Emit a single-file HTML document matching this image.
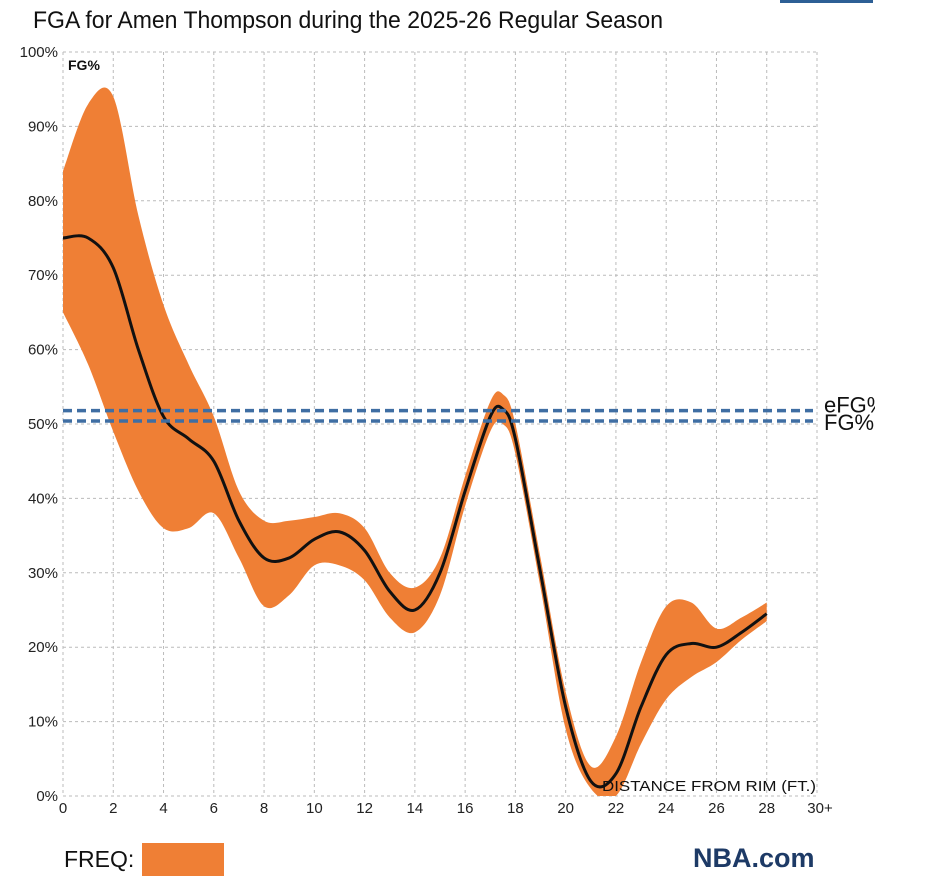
<!DOCTYPE html>
<html><head><meta charset="utf-8"><style>
body{margin:0;background:#fff;width:932px;height:886px;overflow:hidden;font-family:"Liberation Sans",sans-serif}
svg{position:absolute;left:0;top:0}
</style></head><body>
<svg width="932" height="886">
<defs><clipPath id="pc"><rect x="63" y="40" width="760" height="756"/></clipPath>
<clipPath id="lc"><rect x="0" y="0" width="875" height="886"/></clipPath></defs>
<rect x="780" y="0" width="93" height="3" fill="#2d5f95"/>
<text x="33" y="28" font-size="24" fill="#111" font-family="'Liberation Sans Narrow','Liberation Sans',sans-serif" textLength="630" lengthAdjust="spacingAndGlyphs">FGA for Amen Thompson during the 2025-26 Regular Season</text>
<g id="grid"></g>
<g id="band" clip-path="url(#pc)"></g>
<g id="line" clip-path="url(#pc)"></g>
<g id="refs" clip-path="url(#lc)"></g>
<g id="axes"></g>
<text x="68" y="70" font-size="14" font-weight="bold" fill="#111">FG%</text>
<text x="602" y="791" font-size="15" fill="#111" textLength="214" lengthAdjust="spacingAndGlyphs">DISTANCE FROM RIM (FT.)</text>
<text x="64" y="867" font-size="23" fill="#111">FREQ:</text>
<rect x="142" y="843" width="82" height="33" fill="#ef7f35"/>
<text x="693" y="867" font-size="27" font-weight="bold" fill="#1d3a66">NBA.com</text>
</svg>
<script>
const distances=[0,1,2,3,4,5,6,7,8,9,10,11,12,13,14,15,16,17,17.5,18,19,20,21,22,23,24,25,26,27,28];
const fgPct=[75,75,71,60,51,48,45,37,32,32,34.5,35.5,33,27.5,25,30,41,51,52,48,30,12,2,3,12,19,20.5,20,22,24.5];
const upperBand=[84,93,94,78,66,58,51,41,37,37,37.5,38,36,30,28,32,43,53,54,50,32,14,4,8,18,25.5,26,22.5,24,26];
const lowerBand=[65,58,49,41,36,36,38,32,25.5,27,31,31,29,24,22,27,39,49,50,46,28,9,1,0,7,13,16,18,21,23.5];
const refNames=["eFG%","FG%"];
const refValues=[51.8,50.4];
const xTicks=[0,2,4,6,8,10,12,14,16,18,20,22,24,26,28,30];
const xTickLabels=["0","2","4","6","8","10","12","14","16","18","20","22","24","26","28","30+"];
const yTicks=[0,10,20,30,40,50,60,70,80,90,100];

const NS="http://www.w3.org/2000/svg";
const X=v=>63+v*(817-63)/30;
const Y=v=>796-v*(796-52)/100;
function el(p,t,a){const e=document.createElementNS(NS,t);for(const k in a)e.setAttribute(k,a[k]);p.appendChild(e);return e;}
function smooth(pts){let d="M"+pts[0][0]+","+pts[0][1];
 for(let i=0;i<pts.length-1;i++){const p0=pts[i-1]||pts[i],p1=pts[i],p2=pts[i+1],p3=pts[i+2]||p2;
  const c1=[p1[0]+(p2[0]-p0[0])/6,p1[1]+(p2[1]-p0[1])/6],c2=[p2[0]-(p3[0]-p1[0])/6,p2[1]-(p3[1]-p1[1])/6];
  d+="C"+c1+" "+c2+" "+p2;}return d;}
const grid=document.getElementById('grid'),axes=document.getElementById('axes');
yTicks.forEach(t=>{const l=el(grid,'line',{x1:63,x2:817,y1:Y(t),y2:Y(t),stroke:'#bbb','stroke-dasharray':'3,3'});
 
 
 const tx=el(axes,'text',{x:58,y:Y(t)+5,'text-anchor':'end','font-size':15,fill:'#222'});tx.textContent=t+'%';
 
 });
xTicks.forEach((t,i)=>{const l=el(grid,'line',{x1:X(t),x2:X(t),y1:52,y2:796,stroke:'#bbb','stroke-dasharray':'3,3'});
 
 
 const tx=el(axes,'text',{x:X(t)+(i==15?3:0),y:813,'text-anchor':'middle','font-size':15,fill:'#222'});tx.textContent=xTickLabels[i];
 
 });
const up=distances.map((d,i)=>[X(d),Y(upperBand[i])]);
const lo=distances.map((d,i)=>[X(d),Y(lowerBand[i])]).reverse();
const bd=smooth(up)+"L"+lo[0]+smooth(lo).slice(1).replace(/^[^C]*/,'')+"Z";
const band=el(document.getElementById('band'),'path',{d:bd,fill:'#ef7f35'});


const ln=el(document.getElementById('line'),'path',{d:smooth(distances.map((d,i)=>[X(d),Y(fgPct[i])])),fill:'none',stroke:'#111','stroke-width':3});


const refs=document.getElementById('refs');
refValues.forEach((v,i)=>{const l=el(refs,'line',{x1:63,x2:813,y1:Y(v),y2:Y(v),stroke:'#3f6ea3','stroke-width':3.5,'stroke-dasharray':'9,5'});
 
 
 const t=el(refs,'text',{x:824,y:Y(v)+(i?9:2),'font-size':22,fill:'#111'});t.textContent=refNames[i];
 
 });
</script>
</body></html>
